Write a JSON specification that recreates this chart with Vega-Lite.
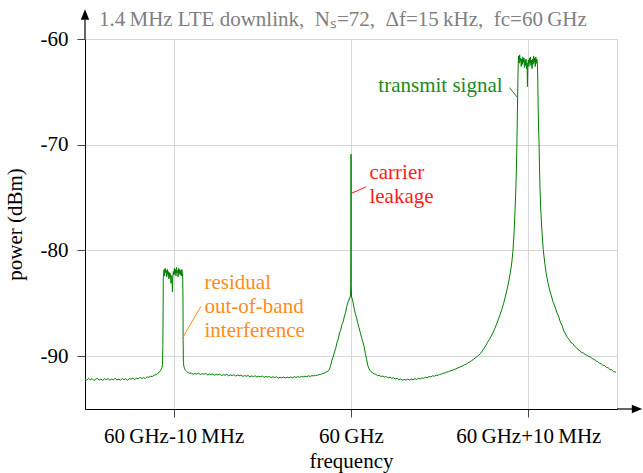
{
  "$schema": "https://vega.github.io/schema/vega-lite/v6.json",
  "width": 532,
  "height": 370,
  "autosize": {"type": "none"},
  "padding": {"left": 85, "top": 39, "right": 26, "bottom": 64},
  "background": "white",
  "config": {"font": "Liberation Serif", "view": {"stroke": "#d6d6d6"}},
  "title": {"text": "1.4\u2009MHz LTE downlink,\u2002Nₛ=72,\u2002Δf=15\u2009kHz,\u2002fc=60\u2009GHz", "anchor": "start", "frame": "group", "dx": 14, "dy": 21, "offset": 0, "color": "#808080", "fontSize": 21, "fontWeight": "normal", "font": "Liberation Serif"},
  "datasets": {
    "spectrum": [
      {"f":-15.0,"p":-92.15},{"f":-14.9,"p":-92.28},{"f":-14.8,"p":-92.1},{"f":-14.7,"p":-92.23},{"f":-14.6,"p":-92.13},{"f":-14.5,"p":-92.3},{"f":-14.4,"p":-92.18},{"f":-14.3,"p":-92.11},{"f":-14.2,"p":-92.26},{"f":-14.1,"p":-92.16},{"f":-14.0,"p":-92.29},{"f":-13.9,"p":-92.14},{"f":-13.8,"p":-92.22},{"f":-13.7,"p":-92.12},{"f":-13.6,"p":-92.27},{"f":-13.5,"p":-92.17},{"f":-13.4,"p":-92.25},{"f":-13.3,"p":-92.1},{"f":-13.2,"p":-92.24},{"f":-13.1,"p":-92.19},{"f":-13.0,"p":-92.26},{"f":-12.9,"p":-92.12},{"f":-12.8,"p":-92.22},{"f":-12.7,"p":-92.14},{"f":-12.6,"p":-92.28},{"f":-12.5,"p":-92.13},{"f":-12.4,"p":-92.18},{"f":-12.3,"p":-92.08},{"f":-12.2,"p":-92.2},{"f":-12.1,"p":-92.1},{"f":-12.0,"p":-92.17},{"f":-11.9,"p":-92.0},{"f":-11.8,"p":-92.12},{"f":-11.7,"p":-92.03},{"f":-11.6,"p":-92.12},{"f":-11.5,"p":-91.96},{"f":-11.4,"p":-92.0},{"f":-11.3,"p":-91.9},{"f":-11.2,"p":-91.93},{"f":-11.1,"p":-91.8},{"f":-11.0,"p":-91.77},{"f":-10.9,"p":-91.62},{"f":-10.8,"p":-91.52},{"f":-10.75,"p":-91.38},{"f":-10.7,"p":-91.25},{"f":-10.66,"p":-91.1},{"f":-10.63,"p":-90.8},{"f":-10.61,"p":-89.0},{"f":-10.595,"p":-85.5},{"f":-10.585,"p":-82.6},
      {"f":-10.57,"p":-82.2},{"f":-10.54,"p":-81.8},{"f":-10.51,"p":-82.4},{"f":-10.48,"p":-81.7},{"f":-10.45,"p":-82.1},{"f":-10.42,"p":-81.9},{"f":-10.39,"p":-82.5},{"f":-10.36,"p":-81.8},{"f":-10.33,"p":-82.3},{"f":-10.3,"p":-82.0},{"f":-10.27,"p":-82.7},{"f":-10.24,"p":-82.1},{"f":-10.21,"p":-82.5},{"f":-10.18,"p":-82.2},{"f":-10.15,"p":-83.1},{"f":-10.12,"p":-82.4},{"f":-10.09,"p":-82.8},{"f":-10.07,"p":-83.9},{"f":-10.05,"p":-82.6},{"f":-10.02,"p":-82.0},{"f":-9.99,"p":-82.3},{"f":-9.96,"p":-81.7},{"f":-9.93,"p":-82.2},{"f":-9.9,"p":-81.8},{"f":-9.87,"p":-82.4},{"f":-9.84,"p":-81.6},{"f":-9.81,"p":-82.1},{"f":-9.78,"p":-81.9},{"f":-9.75,"p":-82.5},{"f":-9.72,"p":-81.7},{"f":-9.69,"p":-82.2},{"f":-9.66,"p":-81.8},{"f":-9.63,"p":-82.3},{"f":-9.6,"p":-81.9},{"f":-9.57,"p":-82.4},{"f":-9.54,"p":-81.8},{"f":-9.51,"p":-82.2},{"f":-9.49,"p":-82.6},{"f":-9.475,"p":-84.5},{"f":-9.465,"p":-88.5},{"f":-9.45,"p":-90.6},{"f":-9.42,"p":-91.0},{"f":-9.38,"p":-91.2},{"f":-9.33,"p":-91.35},{"f":-9.27,"p":-91.45},{"f":-9.2,"p":-91.55},{"f":-9.1,"p":-91.62},
      {"f":-9.0,"p":-91.6},{"f":-8.9,"p":-91.72},{"f":-8.8,"p":-91.64},{"f":-8.7,"p":-91.7},{"f":-8.6,"p":-91.6},{"f":-8.5,"p":-91.74},{"f":-8.4,"p":-91.66},{"f":-8.3,"p":-91.71},{"f":-8.2,"p":-91.63},{"f":-8.1,"p":-91.77},{"f":-8.0,"p":-91.68},{"f":-7.9,"p":-91.74},{"f":-7.8,"p":-91.7},{"f":-7.7,"p":-91.8},{"f":-7.6,"p":-91.72},{"f":-7.5,"p":-91.78},{"f":-7.4,"p":-91.7},{"f":-7.3,"p":-91.84},{"f":-7.2,"p":-91.76},{"f":-7.1,"p":-91.8},{"f":-7.0,"p":-91.73},{"f":-6.9,"p":-91.86},{"f":-6.8,"p":-91.78},{"f":-6.7,"p":-91.83},{"f":-6.6,"p":-91.75},{"f":-6.5,"p":-91.88},{"f":-6.4,"p":-91.8},{"f":-6.3,"p":-91.85},{"f":-6.2,"p":-91.79},{"f":-6.1,"p":-91.92},{"f":-6.0,"p":-91.84},{"f":-5.9,"p":-91.9},{"f":-5.8,"p":-91.83},{"f":-5.7,"p":-91.95},{"f":-5.6,"p":-91.87},{"f":-5.5,"p":-91.93},{"f":-5.4,"p":-91.86},{"f":-5.3,"p":-91.98},{"f":-5.2,"p":-91.9},{"f":-5.1,"p":-91.95},{"f":-5.0,"p":-91.88},{"f":-4.9,"p":-92.0},{"f":-4.8,"p":-91.92},{"f":-4.7,"p":-91.98},{"f":-4.6,"p":-91.93},{"f":-4.5,"p":-92.04},{"f":-4.4,"p":-91.95},{"f":-4.3,"p":-92.02},{"f":-4.2,"p":-91.96},{"f":-4.1,"p":-92.08},{"f":-4.0,"p":-92.0},{"f":-3.9,"p":-92.06},{"f":-3.8,"p":-91.97},{"f":-3.7,"p":-92.07},{"f":-3.6,"p":-91.99},{"f":-3.5,"p":-92.05},{"f":-3.4,"p":-91.96},{"f":-3.3,"p":-92.04},{"f":-3.2,"p":-91.95},{"f":-3.1,"p":-92.02},{"f":-3.0,"p":-91.94},{"f":-2.9,"p":-92.0},{"f":-2.8,"p":-91.91},{"f":-2.7,"p":-91.98},{"f":-2.6,"p":-91.9},{"f":-2.5,"p":-91.95},{"f":-2.4,"p":-91.86},{"f":-2.3,"p":-91.92},{"f":-2.2,"p":-91.84},{"f":-2.1,"p":-91.87},{"f":-2.0,"p":-91.8},{"f":-1.9,"p":-91.82},{"f":-1.8,"p":-91.74},{"f":-1.7,"p":-91.72},{"f":-1.6,"p":-91.65},{"f":-1.5,"p":-91.6},{"f":-1.4,"p":-91.5},{"f":-1.3,"p":-91.42},{"f":-1.22,"p":-91.3},
      {"f":-1.15,"p":-90.9},{"f":-1.08,"p":-90.4},{"f":-1.0,"p":-90.05},{"f":-0.93,"p":-89.6},{"f":-0.86,"p":-89.25},{"f":-0.79,"p":-88.7},{"f":-0.72,"p":-88.4},{"f":-0.65,"p":-87.8},{"f":-0.58,"p":-87.55},{"f":-0.51,"p":-87.0},{"f":-0.44,"p":-86.75},{"f":-0.37,"p":-86.2},{"f":-0.3,"p":-85.85},{"f":-0.24,"p":-85.3},{"f":-0.18,"p":-84.95},{"f":-0.12,"p":-84.7},{"f":-0.07,"p":-84.5},{"f":-0.03,"p":-84.3},{"f":-0.01,"p":-83.2},{"f":0.0,"p":-70.9},{"f":0.01,"p":-83.3},{"f":0.03,"p":-84.4},{"f":0.07,"p":-84.6},{"f":0.12,"p":-84.95},{"f":0.18,"p":-85.5},{"f":0.24,"p":-85.95},{"f":0.3,"p":-86.3},{"f":0.38,"p":-86.85},{"f":0.45,"p":-87.3},{"f":0.52,"p":-87.75},{"f":0.59,"p":-88.2},{"f":0.67,"p":-88.65},{"f":0.74,"p":-89.1},{"f":0.81,"p":-89.75},{"f":0.88,"p":-90.3},{"f":0.95,"p":-90.9},{"f":1.02,"p":-91.2},{"f":1.1,"p":-91.42},{"f":1.2,"p":-91.55},{"f":1.3,"p":-91.66},
      {"f":1.4,"p":-91.72},{"f":1.5,"p":-91.85},{"f":1.6,"p":-91.82},{"f":1.7,"p":-91.93},{"f":1.8,"p":-91.88},{"f":1.9,"p":-91.98},{"f":2.0,"p":-91.94},{"f":2.1,"p":-92.05},{"f":2.2,"p":-91.98},{"f":2.3,"p":-92.1},{"f":2.4,"p":-92.05},{"f":2.5,"p":-92.16},{"f":2.6,"p":-92.1},{"f":2.7,"p":-92.22},{"f":2.8,"p":-92.16},{"f":2.9,"p":-92.28},{"f":3.0,"p":-92.2},{"f":3.1,"p":-92.27},{"f":3.2,"p":-92.18},{"f":3.3,"p":-92.25},{"f":3.4,"p":-92.16},{"f":3.5,"p":-92.23},{"f":3.6,"p":-92.13},{"f":3.7,"p":-92.2},{"f":3.8,"p":-92.1},{"f":3.9,"p":-92.16},{"f":4.0,"p":-92.06},{"f":4.1,"p":-92.1},{"f":4.2,"p":-92.0},{"f":4.3,"p":-92.04},{"f":4.4,"p":-91.93},{"f":4.5,"p":-91.97},{"f":4.6,"p":-91.86},{"f":4.7,"p":-91.9},{"f":4.8,"p":-91.8},{"f":4.9,"p":-91.82},{"f":5.0,"p":-91.72},{"f":5.1,"p":-91.7},{"f":5.2,"p":-91.62},{"f":5.3,"p":-91.6},{"f":5.4,"p":-91.5},{"f":5.5,"p":-91.48},{"f":5.6,"p":-91.38},{"f":5.7,"p":-91.35},{"f":5.8,"p":-91.26},{"f":5.9,"p":-91.22},{"f":6.0,"p":-91.12},{"f":6.1,"p":-91.08},{"f":6.2,"p":-90.98},{"f":6.3,"p":-90.92},{"f":6.4,"p":-90.82},{"f":6.5,"p":-90.76},{"f":6.6,"p":-90.64},{"f":6.7,"p":-90.55},{"f":6.8,"p":-90.42},{"f":6.9,"p":-90.32},{"f":7.0,"p":-90.18},{"f":7.1,"p":-90.05},{"f":7.2,"p":-89.92},{"f":7.3,"p":-89.75},{"f":7.4,"p":-89.52},{"f":7.5,"p":-89.26},{"f":7.6,"p":-89.0},{"f":7.7,"p":-88.7},{"f":7.8,"p":-88.42},{"f":7.9,"p":-88.12},{"f":8.0,"p":-87.8},{"f":8.1,"p":-87.42},{"f":8.2,"p":-87.02},{"f":8.3,"p":-86.56},{"f":8.4,"p":-86.1},{"f":8.5,"p":-85.6},{"f":8.6,"p":-85.05},{"f":8.7,"p":-84.4},{"f":8.8,"p":-83.7},{"f":8.9,"p":-82.9},{"f":9.0,"p":-81.95},{"f":9.07,"p":-81.1},{"f":9.13,"p":-80.1},{"f":9.2,"p":-78.2},{"f":9.26,"p":-75.8},{"f":9.31,"p":-73.4},{"f":9.35,"p":-70.6},{"f":9.38,"p":-67.3},{"f":9.41,"p":-64.0},{"f":9.43,"p":-62.3},
      {"f":9.45,"p":-61.6},{"f":9.48,"p":-62.3},{"f":9.51,"p":-61.5},{"f":9.54,"p":-62.1},{"f":9.57,"p":-61.8},{"f":9.6,"p":-62.6},{"f":9.63,"p":-61.9},{"f":9.66,"p":-62.4},{"f":9.69,"p":-61.7},{"f":9.72,"p":-62.2},{"f":9.75,"p":-61.8},{"f":9.78,"p":-62.7},{"f":9.81,"p":-62.0},{"f":9.84,"p":-62.5},{"f":9.87,"p":-61.9},{"f":9.9,"p":-62.8},{"f":9.93,"p":-62.3},{"f":9.95,"p":-64.5},{"f":9.97,"p":-62.4},{"f":10.0,"p":-62.0},{"f":10.03,"p":-62.6},{"f":10.06,"p":-61.8},{"f":10.09,"p":-62.3},{"f":10.12,"p":-61.7},{"f":10.15,"p":-62.5},{"f":10.18,"p":-62.0},{"f":10.21,"p":-62.8},{"f":10.24,"p":-61.9},{"f":10.27,"p":-62.4},{"f":10.3,"p":-61.6},{"f":10.33,"p":-62.2},{"f":10.36,"p":-61.8},{"f":10.39,"p":-62.6},{"f":10.42,"p":-61.7},{"f":10.45,"p":-62.3},{"f":10.48,"p":-61.9},{"f":10.51,"p":-62.4},{"f":10.53,"p":-63.5},{"f":10.555,"p":-66.5},{"f":10.58,"p":-68.6},
      {"f":10.6,"p":-69.5},{"f":10.63,"p":-72.1},{"f":10.66,"p":-74.2},{"f":10.69,"p":-75.8},{"f":10.76,"p":-78.0},{"f":10.84,"p":-79.9},{"f":10.92,"p":-81.1},{"f":11.0,"p":-82.1},{"f":11.1,"p":-83.0},{"f":11.2,"p":-83.75},{"f":11.3,"p":-84.3},{"f":11.4,"p":-84.9},{"f":11.5,"p":-85.3},{"f":11.6,"p":-85.85},{"f":11.7,"p":-86.2},{"f":11.8,"p":-86.75},{"f":11.9,"p":-87.1},{"f":12.0,"p":-87.62},{"f":12.1,"p":-87.9},{"f":12.2,"p":-88.25},{"f":12.3,"p":-88.4},{"f":12.4,"p":-88.72},{"f":12.5,"p":-88.8},{"f":12.6,"p":-89.05},{"f":12.7,"p":-89.17},{"f":12.8,"p":-89.38},{"f":12.9,"p":-89.46},{"f":13.0,"p":-89.66},{"f":13.1,"p":-89.7},{"f":13.2,"p":-89.83},{"f":13.3,"p":-89.9},{"f":13.4,"p":-90.04},{"f":13.5,"p":-90.08},{"f":13.6,"p":-90.24},{"f":13.7,"p":-90.29},{"f":13.8,"p":-90.45},{"f":13.9,"p":-90.5},{"f":14.0,"p":-90.66},{"f":14.1,"p":-90.7},{"f":14.2,"p":-90.86},{"f":14.3,"p":-90.9},{"f":14.4,"p":-91.06},{"f":14.5,"p":-91.1},{"f":14.6,"p":-91.26},{"f":14.7,"p":-91.3},{"f":14.8,"p":-91.45},{"f":14.9,"p":-91.5},{"f":14.95,"p":-91.58}
    ],
    "leaders": [
      {"f":8.94,"p":-64.6,"k":"signal"},{"f":9.37,"p":-65.5,"k":"signal"},
      {"f":0.02,"p":-74.6,"k":"leak"},{"f":0.86,"p":-73.98,"k":"leak"},
      {"f":-9.5,"p":-88.27,"k":"residual"},{"f":-8.46,"p":-85.28,"k":"residual"}
    ],
    "notes": [
      {"f":8.55,"p":-64.97,"t":"transmit signal","k":"signal"},
      {"f":1.04,"p":-73.29,"t":"carrier","k":"leak"},
      {"f":1.04,"p":-75.56,"t":"leakage","k":"leak"},
      {"f":-8.26,"p":-83.63,"t":"residual","k":"residual"},
      {"f":-8.26,"p":-85.92,"t":"out-of-band","k":"residual"},
      {"f":-8.26,"p":-88.19,"t":"interference","k":"residual"}
    ],
    "axisext": [
      {"f":-15,"p":-60,"g":"y"},{"f":-15,"p":-58.2,"g":"y"},
      {"f":15,"p":-95,"g":"x"},{"f":15.85,"p":-95,"g":"x"}
    ],
    "arrowup": [{"f": -15, "p": -57.68}],
    "arrowright": [{"f": 16.13, "p": -95}]
  },
  "layer": [
    {
      "data": {"name": "spectrum"},
      "mark": {"type": "line", "color": "#008000", "strokeWidth": 1},
      "encoding": {
        "x": {"field": "f", "type": "quantitative",
          "scale": {"domain": [-15, 15], "nice": false, "zero": false},
          "axis": {"title": "frequency", "values": [-10, 0, 10],
            "labelExpr": "datum.value == -10 ? '60\u2009GHz-10\u2009MHz' : (datum.value == 0 ? '60\u2009GHz' : '60\u2009GHz+10\u2009MHz')",
            "grid": true, "gridColor": "#d6d6d6", "domainColor": "#000000", "tickColor": "#444444", "tickSize": 8,
            "labelPadding": 8, "labelFontSize": 21, "labelColor": "#000000", "labelFont": "Liberation Serif", "labelFlush": false, "labelOverlap": false,
            "titleFontSize": 21, "titleFontWeight": "normal", "titleFont": "Liberation Serif", "titleColor": "#000000", "titlePadding": 4}},
        "y": {"field": "p", "type": "quantitative",
          "scale": {"domain": [-95, -60], "nice": false, "zero": false},
          "axis": {"title": "power (dBm)", "values": [-90, -80, -70, -60],
            "labelExpr": "'-' + abs(datum.value)",
            "grid": true, "gridColor": "#d6d6d6", "domainColor": "#000000", "tickColor": "#444444", "tickSize": 8,
            "labelPadding": 9, "labelFontSize": 21, "labelColor": "#000000", "labelFont": "Liberation Serif", "labelFlush": false, "labelOverlap": false,
            "titleFontSize": 21, "titleFontWeight": "normal", "titleFont": "Liberation Serif", "titleColor": "#000000", "titlePadding": 15}}
      }
    },
    {
      "data": {"name": "leaders"},
      "mark": {"type": "line", "strokeWidth": 1},
      "encoding": {
        "x": {"field": "f", "type": "quantitative"},
        "y": {"field": "p", "type": "quantitative"},
        "color": {"field": "k", "type": "nominal", "scale": {"domain": ["signal", "leak", "residual"], "range": ["#1b8a1b", "#ff1a1a", "#ff8c1a"]}, "legend": null}
      }
    },
    {
      "data": {"name": "notes"},
      "transform": [{"filter": "datum.k == 'signal'"}],
      "mark": {"type": "text", "align": "right", "baseline": "alphabetic", "fontSize": 21, "font": "Liberation Serif"},
      "encoding": {
        "x": {"field": "f", "type": "quantitative"},
        "y": {"field": "p", "type": "quantitative"},
        "text": {"field": "t"},
        "color": {"field": "k", "type": "nominal", "scale": {"domain": ["signal", "leak", "residual"], "range": ["#1b8a1b", "#ff1a1a", "#ff8c1a"]}, "legend": null}
      }
    },
    {
      "data": {"name": "notes"},
      "transform": [{"filter": "datum.k != 'signal'"}],
      "mark": {"type": "text", "align": "left", "baseline": "alphabetic", "fontSize": 21, "font": "Liberation Serif"},
      "encoding": {
        "x": {"field": "f", "type": "quantitative"},
        "y": {"field": "p", "type": "quantitative"},
        "text": {"field": "t"},
        "color": {"field": "k", "type": "nominal", "scale": {"domain": ["signal", "leak", "residual"], "range": ["#1b8a1b", "#ff1a1a", "#ff8c1a"]}, "legend": null}
      }
    },
    {
      "data": {"name": "axisext"},
      "mark": {"type": "line", "color": "#000000", "strokeWidth": 1.2},
      "encoding": {
        "x": {"field": "f", "type": "quantitative"},
        "y": {"field": "p", "type": "quantitative"},
        "detail": {"field": "g"}
      }
    },
    {
      "data": {"name": "arrowup"},
      "mark": {"type": "point", "shape": "M0,-1L-0.8,1L0.8,1Z", "size": 110, "filled": true, "color": "#000000", "opacity": 1},
      "encoding": {
        "x": {"field": "f", "type": "quantitative"},
        "y": {"field": "p", "type": "quantitative"}
      }
    },
    {
      "data": {"name": "arrowright"},
      "mark": {"type": "point", "shape": "M1,0L-1,-0.8L-1,0.8Z", "size": 110, "filled": true, "color": "#000000", "opacity": 1},
      "encoding": {
        "x": {"field": "f", "type": "quantitative"},
        "y": {"field": "p", "type": "quantitative"}
      }
    }
  ]
}
